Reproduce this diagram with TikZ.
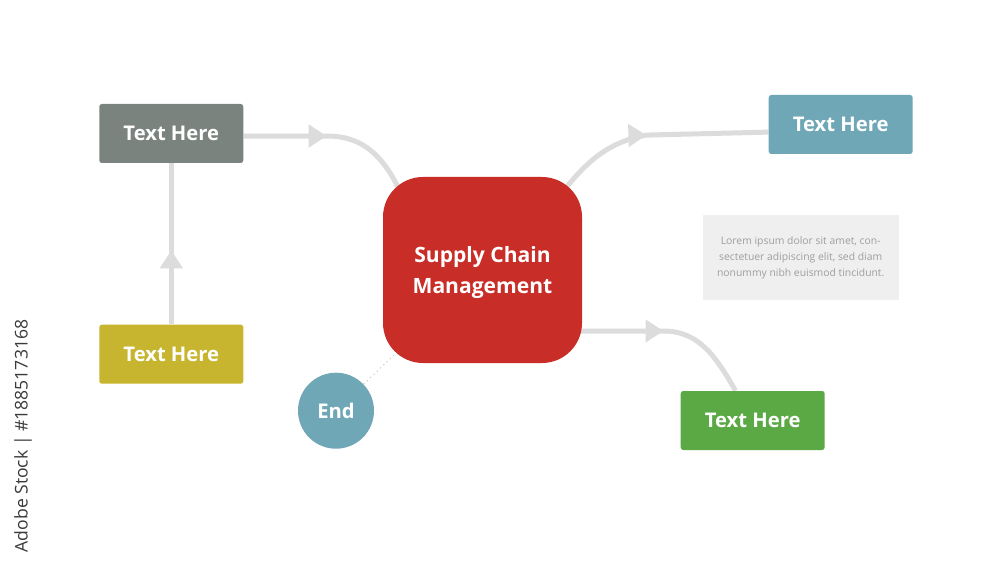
\documentclass[tikz,border=0pt]{standalone}
\usepackage{fontspec}
\setmainfont{Open Sans}
\usetikzlibrary{positioning}
\usetikzlibrary{calc}
\usetikzlibrary{arrows.meta}
\usetikzlibrary{decorations.markings}
\usetikzlibrary{backgrounds}
\definecolor{hubred}{HTML}{C92D27}
\definecolor{boxgray}{HTML}{7B837F}
\definecolor{boxyellow}{HTML}{C7B52F}
\definecolor{boxblue}{HTML}{6FA7B7}
\definecolor{boxgreen}{HTML}{5BA945}
\definecolor{notegray}{HTML}{EFEFEF}
\definecolor{notetext}{HTML}{9E9E9E}
\definecolor{linkgray}{HTML}{DCDCDC}
\definecolor{dotgray}{HTML}{C8C8C8}
\definecolor{wmgray}{HTML}{3A3A3A}
\tikzstyle{box} = [rectangle, rounded corners=1.5pt, minimum width=2.88cm,
minimum height=1.18cm, inner sep=0pt, text=white,
font=\fontsize{11.5}{13}\selectfont\bfseries, node distance=1cm]
\tikzstyle{hub} = [box, fill=hubred, minimum width=3.98cm, minimum height=3.72cm,
rounded corners=0.8cm, align=center, text depth=0pt,
font=\fontsize{12}{18}\selectfont\bfseries]
\tikzstyle{endnode} = [box, circle, fill=boxblue, minimum size=1.52cm]
\tikzstyle{note} = [rectangle, fill=notegray, minimum width=3.92cm, minimum height=1.7cm,
inner sep=0pt, align=center, text=notetext, font=\fontsize{5.9}{9}\selectfont]
\tikzstyle{link} = [line width=0.1cm, color=linkgray]
\tikzstyle{dotlink} = [line width=0.6pt, dotted, color=dotgray]
\tikzset{arrowat/.style={postaction={decorate},
  decoration={markings, mark=at position #1 with {\arrow{Triangle[length=0.36cm,width=0.44cm]}}}}}

\begin{document}
\begin{tikzpicture}
  \useasboundingbox (0,0) rectangle (20,-11.26);

  \node[hub] (scm) at (9.65,-5.4) {Supply Chain\\Management};
  \node[box, fill=boxgray, left=of scm, xshift=-1.78cm, yshift=2.73cm] (tleft) {Text Here};
  \node[box, fill=boxyellow, below=of tleft, yshift=-2.22cm] (tyel) {Text Here};
  \node[box, fill=boxblue, right=of scm, xshift=2.72cm, yshift=2.91cm] (tblue) {Text Here};
  \node[box, fill=boxgreen, right=of scm, xshift=0.96cm, yshift=-3.01cm] (tgreen) {Text Here};
  \node[endnode, below=of scm, xshift=-2.93cm, yshift=0.82cm] (fin) {End};
  \node[note, right=of scm, xshift=1.4cm, yshift=0.25cm] (lorem)
    {Lorem ipsum dolor sit amet, con-\\sectetuer adipiscing elit, sed diam\\nonummy nibh euismod tincidunt.};
  \node[rotate=90, text=wmgray, font=\fontsize{10}{12}\selectfont] (stockid) at (0.46,-8.72)
    {Adobe Stock | \#1885173168};

  \begin{scope}[on background layer]
    \fill[white] (0,0) rectangle (20,-11.26);
    \draw[link, arrowat=1.48cm] (tyel.north) -- (tleft.south);
    \draw[link, arrowat=1.66cm] (tleft.-2) -- ++(1.68,0) to[out=0,in=115] ($(scm.center)+(-1,0)$);
    \draw[link, arrowat=-2.44cm] ($(scm.center)+(1,0.8)$) to[out=50,in=190]
      ($(tblue.186)+(-2.44,-0.06)$) -- (tblue.186);
    \draw[link, arrowat=3.62cm] ($(scm.center)+(0,-1.22)$) -- ++(3.62,0) to[out=0,in=120] (tgreen.120);
    \draw[dotlink] (fin) -- (scm.center);
  \end{scope}
\end{tikzpicture}
\end{document}
